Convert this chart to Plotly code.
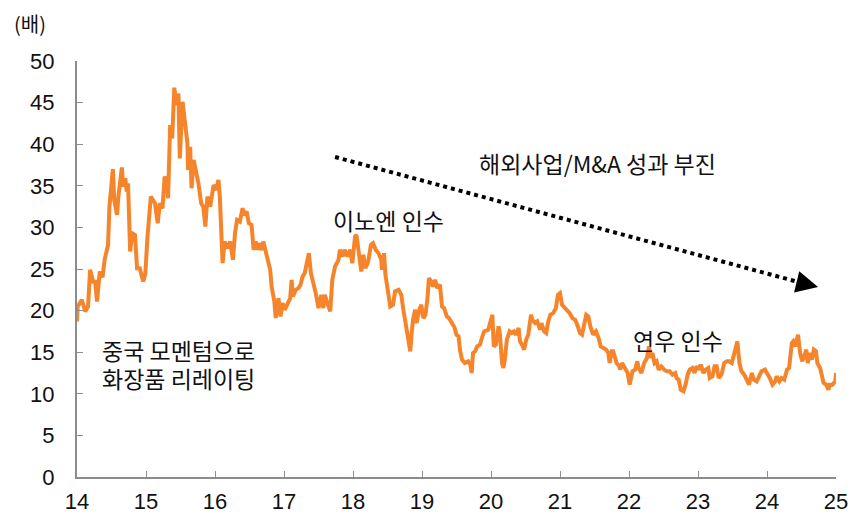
import plotly.graph_objects as go

# x: year (two-digit year + fraction), y: PER multiple (배)
years = [
    14.00, 14.01, 14.07, 14.12, 14.16, 14.19, 14.24, 14.26, 14.29, 14.33, 14.37, 14.40, 14.45, 14.47,
    14.52, 14.54, 14.58, 14.60, 14.65, 14.67, 14.70, 14.72, 14.74, 14.77, 14.80, 14.84, 14.87, 14.91,
    14.94, 14.96, 14.99, 15.02, 15.07, 15.13, 15.17, 15.20, 15.24, 15.27, 15.30, 15.32, 15.35, 15.38,
    15.41, 15.44, 15.47, 15.49, 15.53, 15.57, 15.60, 15.61, 15.64, 15.66, 15.69, 15.72, 15.76, 15.80,
    15.83, 15.86, 15.89, 15.93, 15.98, 16.02, 16.05, 16.07, 16.11, 16.14, 16.18, 16.22, 16.26, 16.29,
    16.32, 16.36, 16.40, 16.42, 16.46, 16.49, 16.53, 16.56, 16.59, 16.62, 16.64, 16.68, 16.70, 16.73,
    16.77, 16.80, 16.82, 16.86, 16.88, 16.92, 16.95, 16.98, 17.01, 17.05, 17.09, 17.11, 17.13, 17.17,
    17.21, 17.24, 17.27, 17.30, 17.34, 17.36, 17.39, 17.42, 17.46, 17.50, 17.54, 17.57, 17.59, 17.63,
    17.67, 17.70, 17.74, 17.79, 17.81, 17.85, 17.88, 17.92, 17.96, 17.99, 18.03, 18.05, 18.09, 18.12,
    18.15, 18.18, 18.22, 18.26, 18.29, 18.33, 18.37, 18.41, 18.42, 18.45, 18.47, 18.50, 18.54, 18.58,
    18.61, 18.66, 18.70, 18.73, 18.76, 18.79, 18.83, 18.85, 18.87, 18.90, 18.92, 18.96, 18.99, 19.02,
    19.05, 19.08, 19.10, 19.13, 19.16, 19.19, 19.22, 19.26, 19.29, 19.32, 19.36, 19.39, 19.43, 19.47,
    19.50, 19.53, 19.55, 19.58, 19.62, 19.67, 19.70, 19.72, 19.74, 19.77, 19.80, 19.84, 19.86, 19.90,
    19.96, 19.99, 20.02, 20.04, 20.07, 20.11, 20.13, 20.16, 20.18, 20.20, 20.23, 20.27, 20.30, 20.33,
    20.36, 20.40, 20.42, 20.45, 20.48, 20.51, 20.54, 20.58, 20.60, 20.64, 20.67, 20.71, 20.73, 20.77,
    20.80, 20.83, 20.86, 20.90, 20.94, 20.97, 21.00, 21.03, 21.07, 21.11, 21.14, 21.18, 21.22, 21.25,
    21.29, 21.32, 21.35, 21.38, 21.41, 21.44, 21.48, 21.52, 21.56, 21.59, 21.63, 21.67, 21.70, 21.72,
    21.75, 21.77, 21.80, 21.82, 21.86, 21.87, 21.90, 21.94, 21.98, 22.01, 22.05, 22.09, 22.12, 22.14,
    22.18, 22.22, 22.26, 22.29, 22.32, 22.34, 22.37, 22.40, 22.43, 22.47, 22.51, 22.55, 22.59, 22.63,
    22.67, 22.69, 22.72, 22.75, 22.79, 22.82, 22.85, 22.88, 22.92, 22.95, 22.98, 23.01, 23.04, 23.08,
    23.11, 23.15, 23.17, 23.21, 23.24, 23.27, 23.30, 23.34, 23.38, 23.42, 23.45, 23.49, 23.53, 23.57,
    23.60, 23.63, 23.67, 23.71, 23.74, 23.78, 23.81, 23.85, 23.89, 23.92, 23.97, 24.00, 24.04, 24.08,
    24.12, 24.14, 24.18, 24.21, 24.25, 24.29, 24.32, 24.36, 24.38, 24.41, 24.43, 24.45, 24.48, 24.51,
    24.54, 24.57, 24.59, 24.62, 24.65, 24.68, 24.71, 24.73, 24.77, 24.79, 24.82, 24.86, 24.89, 24.91,
    24.95, 24.99, 25.00,
]
per = [
    18.7, 20.5, 21.3, 19.9, 20.5, 24.9, 23.3, 23.7, 21.1, 24.7, 24.0, 26.1, 27.9, 32.5,
    37.0, 33.3, 31.5, 33.7, 37.2, 34.9, 35.9, 34.3, 35.3, 27.1, 29.3, 29.1, 25.1, 25.1,
    24.1, 23.5, 24.4, 28.7, 33.7, 32.9, 30.5, 32.9, 32.3, 36.1, 35.6, 33.5, 42.3, 40.7,
    46.8, 44.7, 46.1, 38.3, 45.1, 42.7, 40.1, 36.9, 39.7, 34.7, 38.1, 36.9, 35.3, 32.9,
    32.5, 30.1, 33.7, 32.5, 35.1, 34.5, 35.7, 33.7, 25.7, 28.3, 27.5, 28.3, 26.1, 29.3,
    30.9, 30.7, 32.3, 31.5, 31.9, 30.5, 30.3, 27.3, 28.3, 27.3, 28.1, 27.3, 28.3, 27.3,
    25.7, 24.9, 22.9, 21.1, 19.1, 21.5, 19.3, 20.9, 20.1, 20.7, 21.5, 23.7, 21.7, 22.5,
    22.7, 23.1, 24.1, 24.5, 25.9, 26.9, 24.5, 23.5, 22.1, 20.3, 21.9, 20.3, 21.9, 20.9,
    19.9, 23.7, 25.3, 26.1, 27.3, 26.5, 27.3, 26.5, 27.3, 25.7, 28.9, 29.1, 26.5, 24.7,
    26.7, 25.1, 25.9, 27.9, 28.1, 27.3, 26.9, 26.1, 24.9, 26.9, 24.3, 22.3, 20.5, 20.7,
    22.3, 22.5, 21.9, 20.1, 18.5, 16.5, 15.1, 17.3, 18.9, 20.1, 18.5, 20.1, 20.7, 19.1,
    19.5, 21.5, 23.9, 23.5, 22.9, 23.7, 22.7, 23.1, 20.5, 20.3, 19.3, 19.1, 18.5, 18.0,
    17.1, 16.9, 15.3, 14.1, 13.7, 13.9, 13.5, 12.5, 14.9, 15.1, 15.7, 15.9, 16.5, 17.5,
    17.7, 18.5, 19.5, 15.7, 15.9, 18.1, 17.1, 13.7, 13.1, 14.1, 16.5, 17.5, 17.3, 17.5,
    17.1, 17.9, 16.3, 15.9, 15.3, 16.5, 17.1, 19.5, 18.9, 18.5, 18.7, 17.7, 18.5, 17.5,
    17.3, 18.7, 19.5, 19.7, 20.3, 21.9, 22.1, 20.7, 20.3, 19.9, 19.7, 19.1, 18.9, 18.3,
    17.3, 17.1, 18.1, 19.5, 19.3, 18.1, 17.1, 17.5, 16.7, 15.7, 15.5, 15.3, 14.9, 13.7,
    15.1, 15.1, 14.3, 13.7, 13.3, 12.9, 13.7, 13.1, 12.5, 11.1, 12.7, 12.9, 13.9, 13.1,
    12.5, 13.7, 14.3, 15.7, 14.3, 14.9, 13.7, 13.9, 12.9, 13.3, 12.9, 12.7, 12.7, 12.3,
    12.5, 11.9, 11.7, 10.5, 10.3, 11.1, 12.3, 12.9, 13.1, 12.5, 13.3, 12.9, 13.5, 12.5,
    12.9, 13.1, 11.9, 12.1, 13.3, 13.3, 11.9, 12.3, 13.7, 13.9, 13.9, 13.7, 15.1, 16.3,
    13.7, 12.7, 12.3, 11.7, 11.1, 12.5, 11.7, 11.5, 12.3, 12.7, 12.9, 12.5, 11.9, 11.1,
    11.5, 12.1, 11.5, 11.9, 11.7, 12.9, 13.1, 16.1, 16.3, 15.7, 16.7, 17.1, 14.9, 13.9,
    14.5, 15.3, 13.7, 14.9, 14.1, 15.3, 15.1, 13.7, 13.1, 12.3, 11.3, 11.1, 10.5, 11.1,
    11.1, 11.5, 12.5,
]

tick_years = list(range(14, 26))
tick_labels = [str(v) for v in tick_years]
y_ticks = list(range(0, 55, 5))

ORANGE = "#F5842A"
AXIS = "#8C8C8C"
FONT = "Liberation Sans, Noto Sans CJK KR, sans-serif"
KFONT = "Noto Sans CJK KR, Liberation Sans, sans-serif"

fig = go.Figure()
fig.add_trace(go.Scatter(
    x=years, y=per, mode="lines",
    line=dict(color=ORANGE, width=4),
    hoverinfo="skip", showlegend=False,
))

# dotted trend arrow
fig.add_shape(type="line", xref="x", yref="y",
              x0=17.74, y0=38.46, x1=24.56, y1=23.2,
              line=dict(color="black", width=4, dash="dot"))
fig.add_annotation(x=24.74, y=22.84, ax=24.56, ay=23.2, xref="x", yref="y",
                   axref="x", ayref="y", text="", showarrow=True,
                   arrowhead=2, arrowsize=1.1, arrowwidth=4, arrowcolor="black")

txt = dict(size=23, color="#111111", family=KFONT)
fig.add_annotation(x=21.55, y=37.7, xref="x", yref="y", text="해외사업/M&A 성과 부진",
                   showarrow=False, font=txt)
fig.add_annotation(x=18.51, y=30.9, xref="x", yref="y", text="이노엔 인수",
                   showarrow=False, font=txt)
fig.add_annotation(x=22.71, y=16.5, xref="x", yref="y", text="연우 인수",
                   showarrow=False, font=txt)
fig.add_annotation(x=14.33, y=15.3, xref="x", yref="y", xanchor="left",
                   text="중국 모멘텀으로", showarrow=False, font=txt)
fig.add_annotation(x=14.33, y=11.85, xref="x", yref="y", xanchor="left",
                   text="화장품 리레이팅", showarrow=False, font=txt)
fig.add_annotation(x=-0.062, y=1.0, xref="paper", yref="paper", yshift=53,
                   text="(배)", xanchor="center", yanchor="top", borderpad=0,
                   showarrow=False, font=dict(size=20, color="#111111", family=KFONT))

fig.update_layout(
    width=857, height=511,
    margin=dict(l=69, r=29, t=53, b=42),
    paper_bgcolor="white", plot_bgcolor="white",
    font=dict(family=FONT, size=22, color="#111111"),
    xaxis=dict(range=[14, 25], tickvals=tick_years, ticktext=tick_labels,
               showgrid=False, zeroline=False, showline=True, linecolor=AXIS,
               linewidth=2, ticks="inside", ticklen=6, tickcolor=AXIS, tickwidth=1,
               tickfont=dict(size=22, family=FONT), ticklabelstandoff=4,
               automargin=False, fixedrange=True),
    yaxis=dict(range=[0, 50], tickvals=y_ticks,
               showgrid=False, zeroline=False, showline=True, linecolor=AXIS,
               linewidth=2, ticks="inside", ticklen=6, tickcolor=AXIS, tickwidth=1,
               tickfont=dict(size=22, family=FONT), ticklabelstandoff=16,
               automargin=False, fixedrange=True),
)

fig.write_html("out.html")
